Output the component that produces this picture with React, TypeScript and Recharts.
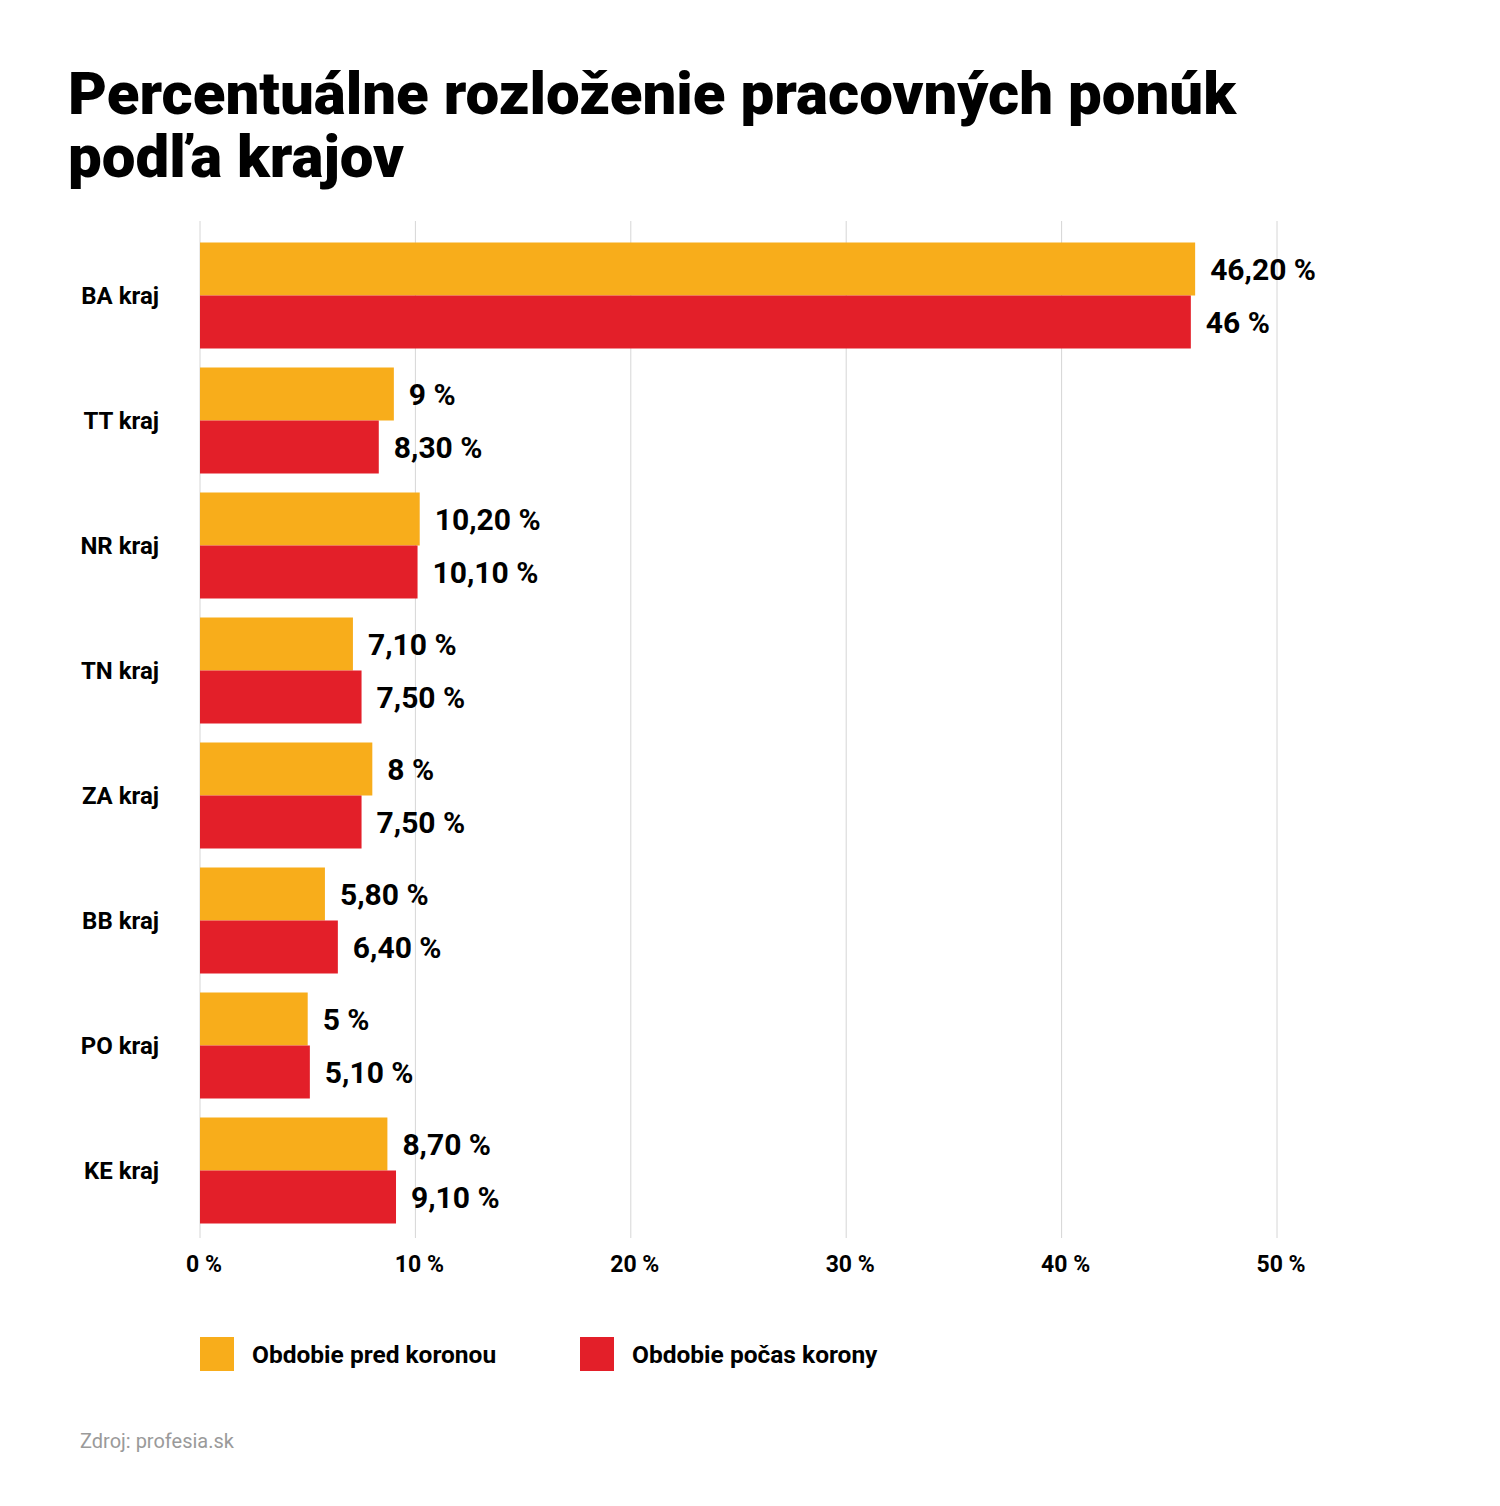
import { BarChart, Bar, XAxis, YAxis, CartesianGrid, LabelList } from "recharts";

const regions = ["BA kraj", "TT kraj", "NR kraj", "TN kraj", "ZA kraj", "BB kraj", "PO kraj", "KE kraj"];
const beforeCovid = [46.2, 9, 10.2, 7.1, 8, 5.8, 5, 8.7];
const duringCovid = [46, 8.3, 10.1, 7.5, 7.5, 6.4, 5.1, 9.1];
const xTicks = [0, 10, 20, 30, 40, 50];
const seriesNames = ["Obdobie pred koronou", "Obdobie počas korony"];
const titleLines = ["Percentuálne rozloženie pracovných ponúk", "podľa krajov"];
const COLORS = ["#F8AD1B", "#E31F29"];

const data = regions.map((r, i) => ({ region: r, before: beforeCovid[i], during: duringCovid[i] }));

function fmt(v: number) {
  return Number.isInteger(v) ? `${v} %` : `${v.toFixed(2).replace(".", ",")} %`;
}

const labelStyle = { fontSize: 30, fontWeight: 700, fill: "#000" };

export default function App() {
  return (
    <div style={{ position: "relative", width: 1500, height: 1506, margin: -8, background: "#fff", fontFamily: "Roboto", overflow: "hidden" }}>
      {titleLines.map((t, i) => (
        <div key={t} style={{ position: "absolute", left: 68, top: 62 + i * 63, height: 63, fontSize: 60, fontWeight: 900, lineHeight: "63px", color: "#000", whiteSpace: "nowrap" }}>
          {t}
        </div>
      ))}

      <div style={{ position: "absolute", left: 0, top: 0 }}>
        <BarChart width={1500} height={1300} data={data} layout="vertical"
          margin={{ top: 221, right: 223, bottom: 32, left: 0 }}
          barCategoryGap={9.5} barGap={0}>
          <CartesianGrid horizontal={false} stroke="#d6d6d6" />
          <XAxis type="number" domain={[0, 50]} ticks={xTicks} axisLine={false} tickLine={false}
            tickSize={0} tickMargin={18} tickFormatter={v => `${v} %`}
            tick={{ fontSize: 23, fontWeight: 700, fill: "#000", dx: 4 }} />
          <YAxis type="category" dataKey="region" width={200} axisLine={false} tickLine={false}
            tickSize={0} tickMargin={41} padding={{ top: 12, bottom: 5 }}
            tick={{ fontSize: 24, fontWeight: 700, fill: "#000" }} />
          <Bar dataKey="before" name={seriesNames[0]} fill={COLORS[0]} isAnimationActive={false}>
            <LabelList dataKey="before" position="right" offset={15} formatter={(v: any) => fmt(Number(v))} style={labelStyle} />
          </Bar>
          <Bar dataKey="during" name={seriesNames[1]} fill={COLORS[1]} isAnimationActive={false}>
            <LabelList dataKey="during" position="right" offset={15} formatter={(v: any) => fmt(Number(v))} style={labelStyle} />
          </Bar>
        </BarChart>
      </div>

      {seriesNames.map((n, i) => (
        <div key={n} style={{ position: "absolute", left: i === 0 ? 200 : 580, top: 1337, display: "flex", alignItems: "center" }}>
          <div style={{ width: 34, height: 34, background: COLORS[i] }} />
          <span style={{ marginLeft: 18, fontSize: 24.5, fontWeight: 700, color: "#000" }}>{n}</span>
        </div>
      ))}

      <div style={{ position: "absolute", left: 80, top: 1429, fontSize: 20, color: "#9a9a9a" }}>Zdroj: profesia.sk</div>
    </div>
  );
}
